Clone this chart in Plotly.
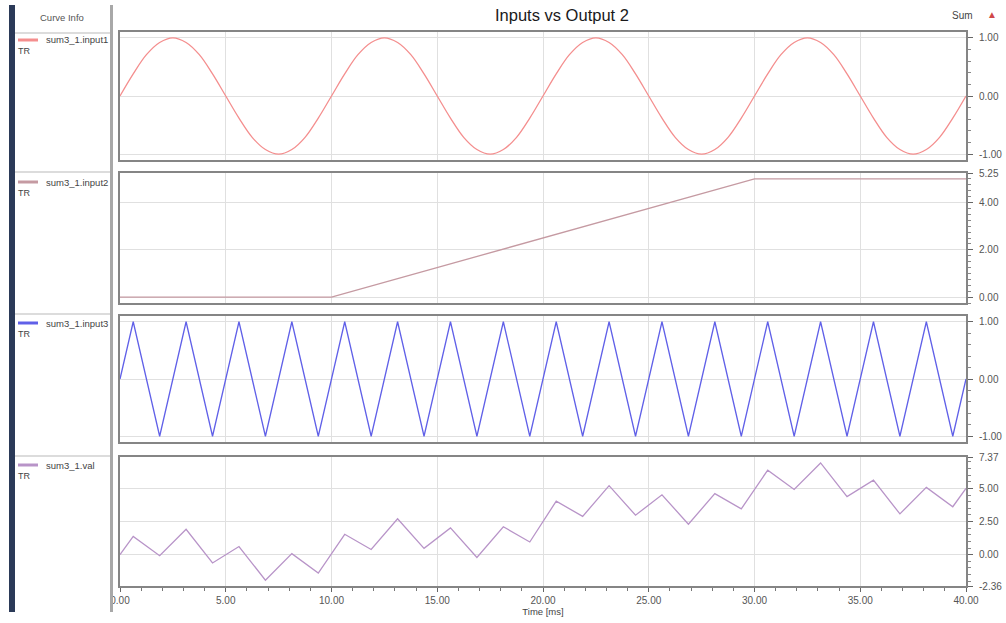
import plotly.graph_objects as go

# ---------------- data ----------------
t_sine = [0, 0.625, 1.25, 1.875, 2.5, 3.125, 3.75, 4.375, 5, 5.625, 6.25, 6.875, 7.5, 8.125, 8.75, 9.375,
          10, 10.625, 11.25, 11.875, 12.5, 13.125, 13.75, 14.375, 15, 15.625, 16.25, 16.875, 17.5, 18.125, 18.75, 19.375,
          20, 20.625, 21.25, 21.875, 22.5, 23.125, 23.75, 24.375, 25, 25.625, 26.25, 26.875, 27.5, 28.125, 28.75, 29.375,
          30, 30.625, 31.25, 31.875, 32.5, 33.125, 33.75, 34.375, 35, 35.625, 36.25, 36.875, 37.5, 38.125, 38.75, 39.375,
          40]
input1 = [0, 0.38, 0.71, 0.92, 1, 0.92, 0.71, 0.38, 0, -0.38, -0.71, -0.92, -1, -0.92, -0.71, -0.38,
          0, 0.38, 0.71, 0.92, 1, 0.92, 0.71, 0.38, 0, -0.38, -0.71, -0.92, -1, -0.92, -0.71, -0.38,
          0, 0.38, 0.71, 0.92, 1, 0.92, 0.71, 0.38, 0, -0.38, -0.71, -0.92, -1, -0.92, -0.71, -0.38,
          0, 0.38, 0.71, 0.92, 1, 0.92, 0.71, 0.38, 0, -0.38, -0.71, -0.92, -1, -0.92, -0.71, -0.38,
          0]

t_ramp = [0, 10, 30, 40]
input2 = [0, 0, 5, 5]

t_tri = [0, 0.625, 1.875, 3.125, 4.375, 5.625, 6.875, 8.125, 9.375, 10.625, 11.875, 13.125,
         14.375, 15.625, 16.875, 18.125, 19.375, 20.625, 21.875, 23.125, 24.375, 25.625, 26.875,
         28.125, 29.375, 30.625, 31.875, 33.125, 34.375, 35.625, 36.875, 38.125, 39.375, 40]
input3 = [0, 1, -1, 1, -1, 1, -1, 1, -1, 1, -1, 1, -1, 1, -1, 1, -1,
          1, -1, 1, -1, 1, -1, 1, -1, 1, -1, 1, -1, 1, -1, 1, -1, 0]
val = [0, 1.38, -0.08, 1.92, -0.62, 0.62, -1.92, 0.08, -1.38, 1.54, 0.39, 2.71, 0.48, 2.02,
       -0.21, 2.11, 0.96, 4.04, 2.89, 5.21, 2.98, 4.52, 2.30, 4.61, 3.46, 6.38, 4.92, 6.92,
       4.38, 5.62, 3.08, 5.08, 3.62, 5.00]

names = ["sum3_1.input1", "sum3_1.input2", "sum3_1.input3", "sum3_1.val"]
colors = ["#f48e8e", "#c59aa2", "#6060e8", "#b894c8"]

y_ranges = [[-1.1, 1.1], [-0.25, 5.25], [-1.1, 1.1], [-2.36, 7.37]]
y_tickvals = [[-1, 0, 1], [0, 2, 4, 5.25], [-1, 0, 1], [-2.36, 0, 2.5, 5, 7.37]]
y_ticktext = [["-1.00", "0.00", "1.00"], ["0.00", "2.00", "4.00", "5.25"],
              ["-1.00", "0.00", "1.00"], ["-2.36", "0.00", "2.50", "5.00", "7.37"]]
y_minor = [0.2, 0.25, 0.2, 0.5]

x_tickvals = [0, 5, 10, 15, 20, 25, 30, 35, 40]
x_ticktext = ["0.00", "5.00", "10.00", "15.00", "20.00", "25.00", "30.00", "35.00", "40.00"]

# ---------------- layout geometry ----------------
W, H = 1006, 623
def px(x):
    return x / W
def py(y):
    return 1 - y / H

panels = [(32, 160), (173, 303), (316, 442), (457, 586)]
xdom = [px(120), px(966)]

FONT = "Arial, Liberation Sans, sans-serif"
fig = go.Figure()

series = [(t_sine, input1, "spline"), (t_ramp, input2, "linear"),
          (t_tri, input3, "linear"), (t_tri, val, "linear")]

layout = {}
for i, ((tx, ty, shape), (top, bot)) in enumerate(zip(series, panels)):
    k = "" if i == 0 else str(i + 1)
    fig.add_trace(go.Scatter(x=tx, y=ty, mode="lines", name=names[i],
                             line=dict(color=colors[i], width=1.3, shape=shape),
                             xaxis="x" + k, yaxis="y" + k, showlegend=False, hoverinfo="skip"))
    last = (i == 3)
    layout["xaxis" + k] = dict(
        domain=xdom, anchor="y" + k, range=[0, 40], showline=True, linecolor="#858585",
        linewidth=2, mirror=True, showgrid=True, gridcolor="#e0e0e0", gridwidth=1,
        zeroline=False, tickmode="array", tickvals=x_tickvals, ticktext=x_ticktext,
        showticklabels=last, ticks="outside" if last else "", ticklen=4, tickcolor="#666",
        tickfont=dict(size=10, color="#555", family=FONT), automargin=False,
        matches=None if i == 0 else "x",
        minor=dict(tickmode="linear", tick0=0, dtick=1, ticks="outside" if last else "",
                   ticklen=3, tickcolor="#777", showgrid=False),
        title=dict(text="Time [ms]" if last else "", font=dict(size=9.5, color="#444", family=FONT),
                   standoff=1),
    )
    layout["yaxis" + k] = dict(
        domain=[py(bot), py(top)], anchor="x" + k, side="right", range=y_ranges[i],
        showline=True, linecolor="#858585", linewidth=2, mirror=True,
        showgrid=True, gridcolor="#e0e0e0", gridwidth=1, zeroline=False,
        tickmode="array", tickvals=y_tickvals[i], ticktext=y_ticktext[i],
        ticks="outside", ticklen=5, tickcolor="#666", ticklabelstandoff=4,
        tickfont=dict(size=10, color="#555", family=FONT), automargin=False,
        minor=dict(tickmode="linear", tick0=0, dtick=y_minor[i], ticks="outside",
                   ticklen=3, tickcolor="#888", showgrid=False),
    )

shapes = []
annotations = []
# dark left bar
shapes.append(dict(type="rect", xref="paper", yref="paper", x0=px(9), x1=px(15),
                   y0=py(612), y1=py(5), fillcolor="#2b3a58", line=dict(width=0)))
# curve info panel right border
shapes.append(dict(type="line", xref="paper", yref="paper", x0=px(111.5), x1=px(111.5),
                   y0=py(612), y1=py(5), line=dict(color="#a8a8a8", width=3)))
# header separator
shapes.append(dict(type="line", xref="paper", yref="paper", x0=px(15), x1=px(110),
                   y0=py(33), y1=py(33), line=dict(color="#dcdcdc", width=2)))
annotations.append(dict(text="Curve Info", x=px(62), y=py(17), xref="paper", yref="paper",
                        xanchor="center", yanchor="middle", showarrow=False,
                        font=dict(size=9.5, color="#555", family=FONT)))

sep_y = [None, 172, 314, 456]
line_y = [40, 182, 323, 465]
for i in range(4):
    if sep_y[i] is not None:
        shapes.append(dict(type="line", xref="paper", yref="paper", x0=px(15), x1=px(110),
                           y0=py(sep_y[i]), y1=py(sep_y[i]), line=dict(color="#dcdcdc", width=2)))
    shapes.append(dict(type="line", xref="paper", yref="paper", x0=px(18), x1=px(38),
                       y0=py(line_y[i]), y1=py(line_y[i]), line=dict(color=colors[i], width=3)))
    annotations.append(dict(text=names[i], x=px(44), y=py(line_y[i]), xref="paper", yref="paper",
                            xanchor="left", yanchor="middle", showarrow=False,
                            font=dict(size=9.5, color="#444", family=FONT)))
    annotations.append(dict(text="TR", x=px(16), y=py(line_y[i] + 11), xref="paper", yref="paper",
                            xanchor="left", yanchor="middle", showarrow=False,
                            font=dict(size=9, color="#444", family=FONT)))

# title and "Sum" marker
annotations.append(dict(text="Inputs vs Output 2", x=px(562), y=py(15), xref="paper", yref="paper",
                        xanchor="center", yanchor="middle", showarrow=False,
                        font=dict(size=16.5, color="#1a1a1a", family=FONT)))
annotations.append(dict(text="Sum", x=px(975), y=py(15), xref="paper", yref="paper",
                        xanchor="right", yanchor="middle", showarrow=False,
                        font=dict(size=10, color="#444", family=FONT)))
annotations.append(dict(text="\u25B2", x=px(992), y=py(14), xref="paper", yref="paper",
                        xanchor="center", yanchor="middle", showarrow=False,
                        font=dict(size=10, color="#d04848", family=FONT)))

fig.update_layout(width=W, height=H, margin=dict(l=0, r=0, t=0, b=0),
                  paper_bgcolor="white", plot_bgcolor="white", hovermode=False,
                  shapes=shapes, annotations=annotations, showlegend=False, **layout)

fig.write_html("out.html", config={"displayModeBar": False},
               post_script="document.body.style.margin='0';document.body.style.overflow='hidden';")
